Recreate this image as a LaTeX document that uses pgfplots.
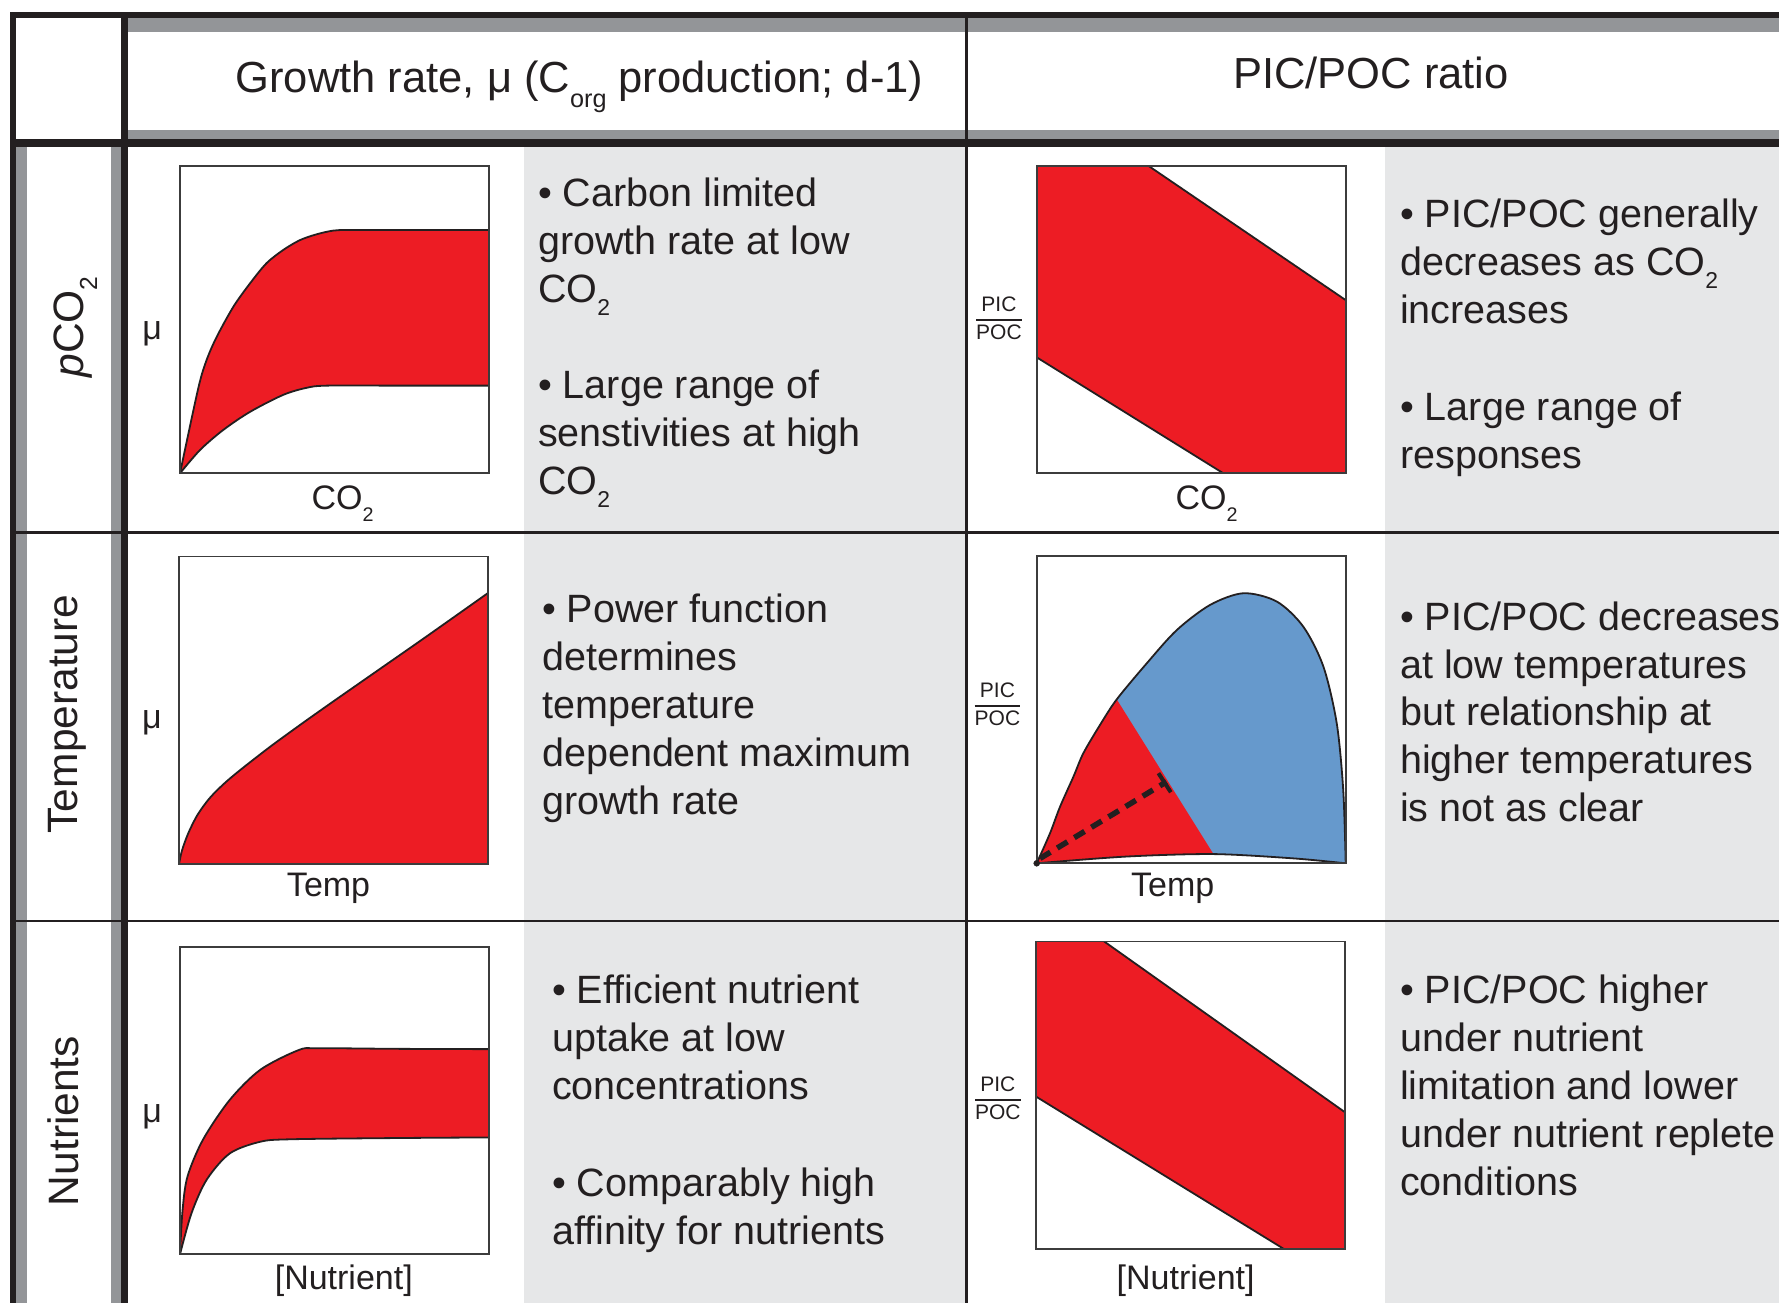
\documentclass[border=0pt]{standalone}
\usepackage{amsmath}
\usepackage{fontspec}
\setmainfont{Liberation Sans}
\usepackage{pgfplots}
\usepackage{pgfplotstable}
\pgfplotsset{compat=1.18}
\usepackage{graphicx}

\definecolor{ink}{HTML}{231F20}
\definecolor{band}{HTML}{939598}
\definecolor{textbg}{HTML}{E6E7E8}
\definecolor{boxline}{HTML}{3C3C3C}
\definecolor{redc}{HTML}{ED1C24}
\definecolor{bluec}{HTML}{6699CC}

\newcommand{\sub}[1]{\raisebox{-0.33em}{\scalebox{0.58}{#1}}}
\newcommand{\headfont}{\fontsize{43.5}{52}\selectfont}
\newcommand{\bodyfont}{\fontsize{39.5}{48}\selectfont}
\newcommand{\rowfont}{\fontsize{42.5}{50}\selectfont}
\newcommand{\labfont}{\fontsize{34}{40}\selectfont}
\newcommand{\fracfont}{\fontsize{21}{25}\selectfont}
\newcommand{\picpoc}{{\fracfont$\genfrac{}{}{1.5pt}{0}{\mbox{PIC}}{\mbox{POC}}$}}

% --- curve tables (normalised panel coordinates) ---
\pgfplotstableread{
x y
0 0
0.059 0.276
0.086 0.368
0.119 0.444
0.173 0.542
0.227 0.618
0.280 0.683
0.334 0.726
0.388 0.758
0.442 0.777
0.496 0.789
0.550 0.791
0.750 0.791
1.000 0.791
}\coupper
\pgfplotstableread{
x y
0 0
0.065 0.076
0.140 0.141
0.227 0.200
0.334 0.255
0.410 0.278
0.475 0.285
0.700 0.285
1.000 0.285
}\colower
\pgfplotstableread{
x y
0 0
0.010 0.045
0.030 0.100
0.060 0.160
0.100 0.215
0.150 0.265
0.210 0.315
0.300 0.385
0.400 0.458
0.500 0.529
0.650 0.634
0.800 0.739
1.000 0.881
}\tempmu
\pgfplotstableread{
x y
0 0
0.043 0.0975
0.0755 0.184
0.119 0.282
0.151 0.358
0.205 0.450
0.259 0.533
0.356 0.650
0.453 0.758
0.561 0.840
0.669 0.878
0.777 0.851
0.863 0.769
0.928 0.639
0.971 0.455
0.992 0.238
1.000 0
}\tempouter
\pgfplotstableread{
x y
0 0
0.291 0.022
0.572 0.030
0.831 0.016
1.000 0
}\tempbottom
\pgfplotstableread{
x y
0 0
0.043 0.0975
0.0755 0.184
0.119 0.282
0.151 0.358
0.205 0.450
0.259 0.533
0.572 0.030
0.291 0.022
0 0
}\tempred
\pgfplotstableread{
x y
0 0
0.008 0.140
0.024 0.252
0.074 0.372
0.161 0.502
0.260 0.600
0.384 0.664
0.446 0.670
0.700 0.668
1.000 0.667
}\nutupper
\pgfplotstableread{
x y
0 0
0.037 0.133
0.086 0.242
0.161 0.328
0.260 0.366
0.359 0.374
0.700 0.378
1.000 0.380
}\nutlower

\pgfplotsset{
  schem/.style={
    scale only axis, width=309pt, height=307.6pt,
    xmin=0, xmax=1, ymin=0, ymax=1,
    xtick=\empty, ytick=\empty,
    axis line style={line width=1.8pt, draw=boxline},
    axis on top,
    every axis x label/.style={anchor=base, inner sep=0pt, font=\labfont, text=ink},
    every axis y label/.style={anchor=east, inner sep=0pt, font=\labfont, text=ink},
  },
  edge/.style={draw=ink, line width=1.8pt, line join=round},
}

\begin{document}
\begin{tikzpicture}
\useasboundingbox (0pt,0pt) rectangle (1779pt,-1303pt);
\clip (0pt,0pt) rectangle (1779pt,-1303pt);

% ---------- table frame ----------
\begin{scope}[x=1pt, y=-1pt]
  \fill[textbg] (523.5,146) rectangle (966,1303);
  \fill[textbg] (1385,146) rectangle (1779,1303);
  \fill[band] (128,18) rectangle (1779,32);
  \fill[band] (128,130) rectangle (1779,138.5);
  \fill[band] (16,146) rectangle (27,1303);
  \fill[band] (111,146) rectangle (120.5,1303);
  \fill[ink] (9.6,11.7) rectangle (1779,18.3);
  \fill[ink] (9.6,138.5) rectangle (1779,146.5);
  \fill[ink] (9.6,11.7) rectangle (16,1303);
  \fill[ink] (120.5,11.7) rectangle (128,1303);
  \draw[ink, line width=2.8pt] (16,532.5) -- (1779,532.5);
  \draw[ink, line width=2.8pt] (16,921) -- (1779,921);
  \draw[ink, line width=2.6pt] (966.3,18) -- (966.3,1303);

  % column headers
  \node[anchor=base, inner sep=0pt, font=\headfont, text=ink] at (579.5,93)
    {Growth rate, μ (C\sub{org} production; d-1)};
  \node[anchor=base, inner sep=0pt, font=\headfont, text=ink] at (1371,89)
    {PIC/POC ratio};

  % row headers
  \node[rotate=90, anchor=base, inner sep=0pt, font=\rowfont, text=ink] at (83,327) {\textit{p}CO\sub{2}};
  \node[rotate=90, anchor=base, inner sep=0pt, font=\rowfont, text=ink] at (77,714) {Temperature};
  \node[rotate=90, anchor=base, inner sep=0pt, font=\rowfont, text=ink] at (78.5,1121) {Nutrients};

  % notes
  \tikzset{note/.style={anchor=base west, inner sep=0pt, font=\bodyfont, text=ink}}
  \node[note] at (538,206.5) {• Carbon limited};
  \node[note] at (538,254.5) {growth rate at low};
  \node[note] at (538,302.5) {CO\sub{2}};
  \node[note] at (538,398.5) {• Large range of};
  \node[note] at (538,446.5) {senstivities at high};
  \node[note] at (538,494.5) {CO\sub{2}};

  \node[note] at (1400,227) {• PIC/POC generally};
  \node[note] at (1400,275) {decreases as CO\sub{2}};
  \node[note] at (1400,323) {increases};
  \node[note] at (1400,420) {• Large range of};
  \node[note] at (1400,468) {responses};

  \node[note] at (542,622) {• Power function};
  \node[note] at (542,670) {determines};
  \node[note] at (542,718) {temperature};
  \node[note] at (542,766) {dependent maximum};
  \node[note] at (542,814) {growth rate};

  \node[note] at (1400,630) {• PIC/POC decreases};
  \node[note] at (1400,678) {at low temperatures};
  \node[note] at (1400,725.5) {but relationship at};
  \node[note] at (1400,773.5) {higher temperatures};
  \node[note] at (1400,821) {is not as clear};

  \node[note] at (552,1003) {• Efficient nutrient};
  \node[note] at (552,1051) {uptake at low};
  \node[note] at (552,1099) {concentrations};
  \node[note] at (552,1196) {• Comparably high};
  \node[note] at (552,1244) {affinity for nutrients};

  \node[note] at (1400,1003) {• PIC/POC higher};
  \node[note] at (1400,1051) {under nutrient};
  \node[note] at (1400,1099) {limitation and lower};
  \node[note] at (1400,1147) {under nutrient replete};
  \node[note] at (1400,1195) {conditions};
\end{scope}

% ---------- pCO2 : growth rate ----------
\begin{axis}[schem, at={(180pt,-473.3pt)}, anchor=south west,
  xlabel={CO\sub{2}}, xlabel style={at={(axis description cs:0.526,-0.119)}},
  ylabel={μ}, ylabel style={at={(axis description cs:-0.058,0.453)}}]
  \addplot[fill=redc, draw=none, smooth] table {\coupper} \closedcycle;
  \addplot[fill=white, draw=none, smooth] table {\colower} \closedcycle;
  \addplot[edge, smooth] table {\coupper};
  \addplot[edge, smooth] table {\colower};
\end{axis}

% ---------- pCO2 : PIC/POC ----------
\begin{axis}[schem, at={(1036.7pt,-473.3pt)}, anchor=south west,
  xlabel={CO\sub{2}}, xlabel style={at={(axis description cs:0.55,-0.119)}},
  ylabel={\picpoc}, ylabel style={at={(axis description cs:-0.044,0.504)}}]
  \addplot[fill=redc, draw=none] coordinates
    {(0,1) (0.361,1) (1,0.563) (1,0) (0.604,0) (0,0.377)};
  \addplot[edge] coordinates {(0.361,1) (1,0.563)};
  \addplot[edge] coordinates {(0,0.377) (0.604,0)};
\end{axis}

% ---------- Temperature : growth rate ----------
\begin{axis}[schem, at={(179pt,-864pt)}, anchor=south west,
  xlabel={Temp}, xlabel style={at={(axis description cs:0.484,-0.106)}},
  ylabel={μ}, ylabel style={at={(axis description cs:-0.055,0.46)}}]
  \addplot[fill=redc, draw=none, smooth] table {\tempmu} \closedcycle;
  \addplot[edge, smooth] table {\tempmu};
\end{axis}

% ---------- Temperature : PIC/POC ----------
\begin{axis}[schem, at={(1036.7pt,-863.3pt)}, anchor=south west,
  xlabel={Temp}, xlabel style={at={(axis description cs:0.44,-0.109)}},
  ylabel={\picpoc}, ylabel style={at={(axis description cs:-0.049,0.517)}}]
  \addplot[fill=bluec, draw=none, smooth] table {\tempouter} \closedcycle;
  \addplot[fill=redc, draw=none] table {\tempred};
  \addplot[fill=white, draw=none, smooth] table {\tempbottom} \closedcycle;
  \addplot[edge, smooth] table {\tempouter};
  \addplot[edge, smooth] table {\tempbottom};
  \addplot[ink, line width=5.5pt, dash pattern=on 12pt off 8pt] coordinates {(0.011,0.016) (0.42,0.265)};
  \addplot[ink, line width=4pt] coordinates {(0.394,0.293) (0.434,0.231)};
  \addplot[only marks, mark=*, mark size=3pt, ink] coordinates {(0,0)};
\end{axis}

% ---------- Nutrients : growth rate ----------
\begin{axis}[schem, at={(180pt,-1254.3pt)}, anchor=south west,
  xlabel={[Nutrient]}, xlabel style={at={(axis description cs:0.53,-0.116)}},
  ylabel={μ}, ylabel style={at={(axis description cs:-0.058,0.446)}}]
  \addplot[fill=redc, draw=none, smooth] table {\nutupper} \closedcycle;
  \addplot[fill=white, draw=none, smooth] table {\nutlower} \closedcycle;
  \addplot[edge, smooth] table {\nutupper};
  \addplot[edge, smooth] table {\nutlower};
\end{axis}

% ---------- Nutrients : PIC/POC ----------
\begin{axis}[schem, at={(1035.8pt,-1249pt)}, anchor=south west,
  xlabel={[Nutrient]}, xlabel style={at={(axis description cs:0.485,-0.133)}},
  ylabel={\picpoc}, ylabel style={at={(axis description cs:-0.045,0.49)}}]
  \addplot[fill=redc, draw=none] coordinates
    {(0,1) (0.221,1) (1,0.445) (1,0) (0.803,0) (0,0.496)};
  \addplot[edge] coordinates {(0.221,1) (1,0.445)};
  \addplot[edge] coordinates {(0,0.496) (0.803,0)};
\end{axis}
\end{tikzpicture}
\end{document}
